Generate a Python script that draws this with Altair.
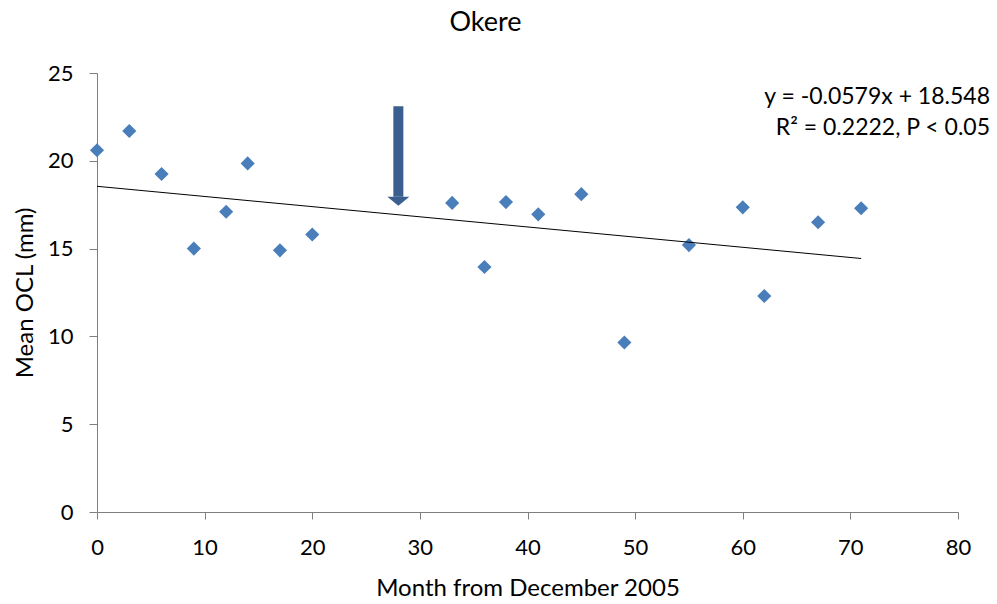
import altair as alt
import pandas as pd

months = [0, 3, 6, 9, 12, 14, 17, 20, 33, 36, 38, 41, 45, 49, 55, 60, 62, 67, 71]
ocl = [20.6, 21.7, 19.25, 15.0, 17.1, 19.85, 14.9, 15.8, 17.6, 13.95, 17.65, 16.95, 18.1, 9.65, 15.2, 17.35, 12.3, 16.5, 17.3]

slope = -0.0579
intercept = 18.548
trend_x = [0, 71]

arrow_x = [28]
arrow_top = [23.1]
arrow_head = [17.95]

FONT = "Lato"
BLUE = "#4A7EBB"
ARROW = "#3A5F8E"

pts = pd.DataFrame({"month": months, "ocl": ocl})
trend = pd.DataFrame({"month": trend_x, "ocl": [intercept + slope * x for x in trend_x]})
arrow = pd.DataFrame({"month": arrow_x, "top": arrow_top, "head": arrow_head})

xscale = alt.Scale(domain=[0, 80], nice=False, zero=False)
yscale = alt.Scale(domain=[0, 25], nice=False)

xaxis = alt.Axis(title="Month from December 2005", values=list(range(0, 81, 10)), grid=False,
                 tickSize=7, labelPadding=18, titlePadding=18, format="d", labelFlush=False)
yaxis = alt.Axis(title="Mean OCL (mm)", values=list(range(0, 26, 5)), grid=False,
                 tickSize=8, labelPadding=16, titlePadding=10, format="d", labelFlush=False)

points = alt.Chart(pts).mark_point(shape="diamond", filled=True, size=200, color=BLUE, opacity=1).encode(
    x=alt.X("month:Q", scale=xscale, axis=xaxis),
    y=alt.Y("ocl:Q", scale=yscale, axis=yaxis),
)

line = alt.Chart(trend).mark_line(color="black", strokeWidth=1).encode(
    x=alt.X("month:Q", scale=xscale),
    y=alt.Y("ocl:Q", scale=yscale),
)

shaft = alt.Chart(arrow).mark_rule(color=ARROW, strokeWidth=10).encode(
    x=alt.X("month:Q", scale=xscale),
    y=alt.Y("top:Q", scale=yscale),
    y2="head:Q",
)

head = alt.Chart(arrow).mark_point(shape="M-1,0L1,0L0,0.82Z", filled=True, size=484, color=ARROW, opacity=1).encode(
    x=alt.X("month:Q", scale=xscale),
    y=alt.Y("head:Q", scale=yscale),
)

eq = alt.Chart(pd.DataFrame({"t": ["y = -0.0579x + 18.548\nR² = 0.2222, P < 0.05"]})).mark_text(
    align="right", baseline="middle", font=FONT, fontSize=23, lineBreak="\n", lineHeight=31, color="black"
).encode(x=alt.value(893), y=alt.value(24), text="t:N")

chart = alt.layer(points, line, shaft, head, eq).properties(
    width=861, height=439,
    title=alt.TitleParams("Okere", font=FONT, fontSize=27, fontWeight="normal", color="black",
                          anchor="middle", dx=-42, offset=25),
    autosize=alt.AutoSizeParams(type="none"),
    padding={"left": 97, "top": 73, "right": 39, "bottom": 92},
).configure_view(stroke=None).configure_axis(
    domainColor="#7F7F7F", tickColor="#7F7F7F", labelFont=FONT, titleFont=FONT,
    labelFontSize=22, titleFontSize=24, labelColor="black", titleColor="black", titleFontWeight="normal"
)

chart.save("out.html", embed_options={"renderer": "svg", "actions": False})
